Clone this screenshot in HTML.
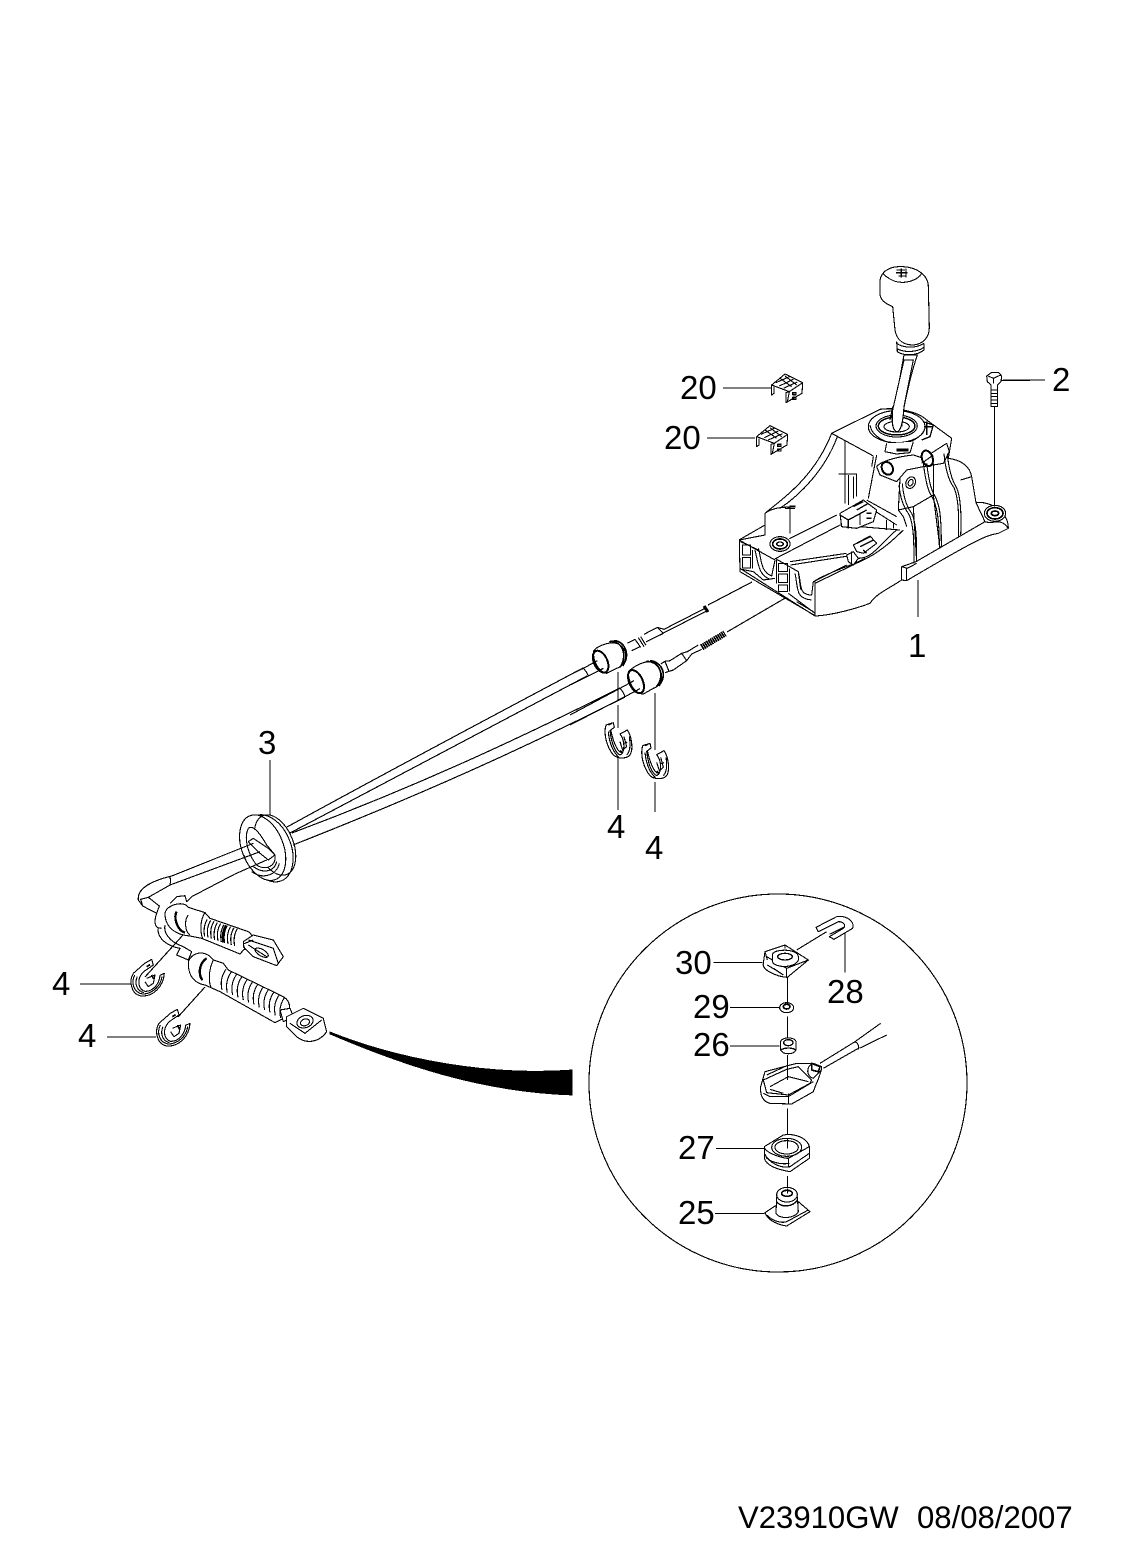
<!DOCTYPE html>
<html><head><meta charset="utf-8"><title>V23910GW</title>
<style>html,body{margin:0;padding:0;background:#fff}svg{display:block}text{font-family:"Liberation Sans",sans-serif;fill:#000;stroke:none}.a{shape-rendering:crispEdges}</style></head>
<body>
<svg xmlns="http://www.w3.org/2000/svg" width="1124" height="1566" viewBox="0 0 1124 1566">
<defs>
<g id="clipA"><path d="M108,405 L130,398 L133,412 L120,422 C124,458 135,488 150,495 C166,488 165,450 150,432 L172,420 C186,440 190,480 180,495 C170,506 145,508 130,495 C110,470 100,432 108,405 Z" fill="#fff"/><path d="M115,425 C118,460 128,485 148,503 M122,420 C130,455 140,480 152,488 M162,440 L170,470 L158,480 L150,455 M160,460 L172,456 M178,440 C182,465 180,485 170,495"/><path d="M150,482 l6,6 M115,405 l8,-4" stroke-width="5"/></g>
<g id="clipB"><path d="M74,490 L95,478 L100,495 L78,510 C48,530 52,568 75,574 C96,575 118,555 120,526 L133,520 C130,560 100,590 65,588 C35,585 25,545 40,520 Z" fill="#fff"/><path d="M44,525 C32,550 42,578 68,582 C95,582 122,560 126,530 M52,530 C42,552 52,574 72,578 M80,535 L105,525 L100,550 L85,560 L75,545"/><path d="M80,500 l10,-6 M95,525 l6,12" stroke-width="5"/></g>
<path id="r1" d="M0,0 q-14,22 -8,52"/>
<path id="r2" d="M0,0 q-20,28 -12,62"/>
<g id="cl20"><path d="M215,405 L255,372 L308,398 L306,430 L258,458 L258,428 L268,425 L215,405 L215,435 L222,430 L222,410" fill="#fff"/><path d="M268,425 L308,398 M268,425 L262,455 M228,398 L268,380 M238,408 L280,388 M250,415 L292,396 M240,385 L275,410 M255,378 L290,405"/><path d="M278,428 h10 v6 h-10 z M278,442 h10 v6 h-10z" stroke-width="4"/></g>
</defs>
<rect width="1124" height="1566" fill="#fff"/>
<g class="a">
<g fill="none" stroke="#000" stroke-width="1.15">
<path d="M723,388H772M707,438H755M1003,380H1045M918,580V617M270,760V815M618,672V700M618,705V728M618,757V810M655,693V750M655,782V812M80,984H131M107,1037H156M145,977L183,935M178,1017L205,987"/>
<circle cx="778" cy="1083" r="189"/>
<path d="M583,668 C500,712 400,765 287,827M587,676 C500,722 400,775 290,833M620,688 C520,738 420,785 292,833M625,697 C520,750 420,795 293,845M708,605L752,582M727,632L787,597"/>
</g>
<path d="M330,1032 C400,1060 490,1076 572,1070 L572,1095 C480,1092 400,1064 330,1034 Z" fill="#000" stroke="#000" stroke-width=".8"/>

<!-- boots and rods, z4 -->
<g transform="translate(570,590) scale(.33333)" fill="none" stroke="#000" stroke-width="3.4" stroke-linejoin="round">
<!-- upper rod -->
<path d="M172,160 L195,148 M185,182 L210,170 M195,148 L212,172 M205,143 L222,170 M212,140 L228,166 M222,133 L262,112 L282,118 L405,55 M228,156 L280,130 L282,128 L412,62 M262,112 L280,130" />
<path d="M402,48 L414,66" stroke-width="9"/>
<!-- lower rod -->
<path d="M272,222 L285,214 L300,212 L335,190 L352,185 L385,165 M285,248 L310,240 L350,212 L365,192 L395,178 M285,214 L297,244 M335,190 L350,212"/>
<path d="M395,172 L465,130" stroke-width="19" stroke-dasharray="5 1.5"/>
<!-- upper boot -->
<path d="M70,185 C80,165 130,150 150,165 C178,185 170,225 140,235 L110,250 C85,245 70,215 70,185 Z" fill="#fff"/>
<ellipse cx="92" cy="215" rx="20" ry="35" transform="rotate(-25 92 215)" stroke-width="6"/>
<path d="M118,155 C150,148 178,190 150,232 M130,152 C160,150 185,190 158,228" stroke-width="5"/>
<path d="M0,255 L40,235 L82,212 M0,285 L55,258 L100,235 M40,235 Q50,245 55,258"/>
<!-- lower boot -->
<path d="M175,245 C195,225 235,205 255,222 C285,245 280,285 250,295 L220,312 C190,310 175,275 175,245 Z" fill="#fff"/>
<ellipse cx="198" cy="275" rx="20" ry="37" transform="rotate(-25 198 275)" stroke-width="6"/>
<path d="M228,215 C265,210 290,255 258,292 M240,212 C275,215 295,255 266,288" stroke-width="5"/>
<path d="M0,375 L150,295 L192,272 M0,405 L165,320 L210,296 M150,295 Q160,305 165,320"/>
<use href="#clipA"/>
<use href="#clipA" x="110" y="62"/>
</g>

<!-- shifter z1 -->
<g transform="translate(700,250) scale(.33333)" fill="none" stroke="#000" stroke-width="3.3" stroke-linejoin="round">
<path d="M118,870 L195,855 L195,790 C235,755 340,690 395,550 L540,478 C600,470 660,490 680,510 L755,565 L745,625 C785,630 810,650 815,680 L828,758 C870,752 925,785 925,835 L895,850 C860,855 830,868 620,992 L605,990 C560,1020 530,1030 510,1060 C470,1075 400,1095 347,1098 L120,965 Z" fill="#fff"/>
<path d="M605,950 L648,935 L855,815 L828,758 M605,950 V990 M620,955 V992 M605,950 L622,955 L650,940 M925,835 C900,800 880,825 855,815"/>
<path d="M395,550 L520,618 M435,570 V760 M415,672 H470 V740 M445,675 V765 M460,680 V745 M530,615 L505,745 M520,620 L515,650 M195,790 C215,775 245,770 270,772 V850 M240,775 C300,735 375,660 412,560 M255,775 H285 "/>
<path d="M268,770 l18,0" stroke-width="6"/>
<path d="M612,315 C600,380 590,440 578,500 L604,515 C612,470 630,380 652,315 Z" fill="#fff"/>
<ellipse cx="590" cy="530" rx="85" ry="48" fill="#fff"/>
<ellipse cx="590" cy="528" rx="62" ry="33"/>
<ellipse cx="590" cy="528" rx="55" ry="27" stroke-width="4.5"/>
<ellipse cx="590" cy="530" rx="38" ry="16"/>
<path d="M578,480 C576,500 574,540 590,545 C600,545 608,530 612,470 L640,330 L612,330 Z" fill="#fff"/>
<path d="M570,510 L578,470 M605,530 L612,480"/>
<path d="M510,525 C515,560 560,580 590,582 C625,582 665,565 675,535"/>
<path d="M540,90 C545,60 575,48 610,50 C650,52 685,75 685,110 L688,232 C688,262 670,282 640,285 C610,285 590,270 585,240 L578,170 C555,160 540,150 540,130 Z" fill="#fff"/>
<path d="M548,70 C570,92 590,98 612,97 C640,95 662,80 664,70 M590,275 L592,305 C610,318 650,318 672,300 L672,280 M590,280 C610,295 650,295 672,280 M590,295 C610,308 650,308 672,292"/>
<path d="M590,60 h25 M588,68 h35 M595,78 h25 M604,55 v28 M618,55 v28" stroke-width="4"/>
<path d="M560,580 L555,605 L590,612 L630,608 L640,575" fill="#fff"/>
<path d="M590,600 h35" stroke-width="8"/>
<path d="M670,515 L700,525 L690,560 L665,570 M680,515 V555 M672,530 L700,530" stroke-width="4"/>
<path d="M530,650 C540,635 590,620 640,615 L670,625 L740,580 L748,605 L730,640 L670,650 L620,660 L590,695 L540,675 Z" fill="#fff"/>
<ellipse cx="562" cy="655" rx="16" ry="20" transform="rotate(-30 562 655)" stroke-width="6"/>
<path d="M600,685 L595,780 L640,770 L700,735 L700,640 M595,780 L610,800 L620,830 M640,770 L650,935 M700,735 L720,895 "/>
<ellipse cx="632" cy="698" rx="14" ry="18" transform="rotate(25 632 698)"/>
<ellipse cx="632" cy="698" rx="7" ry="10" transform="rotate(25 632 698)"/>
<ellipse cx="682" cy="625" rx="16" ry="24" transform="rotate(-20 682 625)" fill="#fff" stroke-width="6"/>
<path d="M665,640 L700,615"/>
<path d="M670,640 C675,680 680,710 690,730 C710,760 718,800 718,895 M680,640 C685,680 690,710 700,730 C720,760 724,800 724,890"/>
<path d="M732,610 C735,650 745,690 760,710 C775,735 778,800 775,860 M742,610 C745,650 755,690 768,710 C782,735 785,800 782,855"/>
<path d="M597,705 C600,740 610,770 625,790 C642,820 642,880 642,940 M607,700 C610,740 620,770 635,790 C650,820 650,880 650,935"/>
<path d="M815,680 L782,690"/>
<ellipse cx="885" cy="790" rx="32" ry="24" fill="#fff"/>
<ellipse cx="885" cy="790" rx="24" ry="17" stroke-width="5"/>
<ellipse cx="885" cy="790" rx="11" ry="7" stroke-width="5"/>
<path d="M883,470 V770 M905,392 H990"/>
<path d="M860,378 L875,367 L895,367 L905,378 L903,395 L892,405 V470 H873 V405 L862,395 Z" fill="#fff"/>
<path d="M865,378 L880,385 L902,375 M880,385 V400 M873,420 h19 M873,430 h19 M873,440 h19 M873,450 h19 M873,460 h19"/>
<!-- floor -->
<path d="M268,866 L410,795 M228,925 L420,825 M420,825 L600,840 M270,935 L440,910 M272,945 L445,918 M345,992 C400,960 450,950 495,925 M345,1000 L500,925 C530,910 570,880 610,840 M520,780 L590,825 M560,810 V840 M580,820 V835 M500,750 L590,800"/>
<!-- box walls, z6 -->
<g transform="translate(90,750)">
<path d="M27,120 L105,75 M32,125 L85,150 M27,120 L135,180 M30,205 L255,348 M35,208 L70,215 L100,240 L135,235"/>
<path d="M37,135 h25 v30 h-25z M37,172 h25 v32 h-25z M68,150 v55"/>
<path d="M85,145 C95,175 90,215 125,228 L135,180 M75,150 C85,190 85,225 120,238"/>
<path d="M135,175 L205,215 L212,268 M140,180 V250 M145,190 h28 v25 h-28z M145,222 h28 v25 h-28z M145,255 h28 v20 h-28z M178,205 V275"/>
<path d="M205,215 C215,255 205,285 245,285 L250,245 M195,220 C205,265 195,295 245,300 M175,280 L255,340 M200,305 L250,335 M255,348 V245 M250,245 L350,195"/>
</g>
<ellipse cx="240" cy="882" rx="30" ry="22" fill="#fff"/>
<ellipse cx="240" cy="882" rx="22" ry="15" stroke-width="5"/>
<ellipse cx="240" cy="882" rx="10" ry="6" stroke-width="4"/>
<path d="M420,790 L490,750 L530,780 L520,815 L470,835 L425,830 Z" fill="#fff"/>
<path d="M420,795 L445,810 L500,780 M445,810 V835 M470,780 L505,760 M460,770 L490,755 M480,790 V825 M500,790 h15 M500,805 h15" stroke-width="4"/>
<path d="M460,885 L510,858 L530,880 L490,910 L470,905 Z" fill="#fff"/>
<path d="M470,880 L510,860 M480,890 L520,870 M490,900 L500,910" stroke-width="4"/>
<path d="M440,915 L460,905 L475,925 L460,945 L445,935 Z M455,905 V945" fill="#fff"/>
<path d="M475,925 C520,925 540,880 590,840"/>
<use href="#cl20"/>
<use href="#cl20" x="-45" y="155"/>
</g>

<!-- bottom-left assembly z2 -->
<g transform="translate(120,800) scale(.33333)" fill="none" stroke="#000" stroke-width="3.3" stroke-linejoin="round">
<ellipse cx="445" cy="145" rx="68" ry="105" transform="rotate(-22 445 145)" fill="#fff"/>
<ellipse cx="428" cy="143" rx="62" ry="103" transform="rotate(-22 428 143)" fill="#fff"/>
<ellipse cx="465" cy="135" rx="55" ry="95" transform="rotate(-22 465 135)"/>
<path d="M385,85 C395,75 415,90 440,135 L465,165 C470,195 440,215 410,195 C385,165 370,115 385,85 Z" fill="#fff"/>
<path d="M395,215 C430,240 470,225 478,190 M400,200 C435,225 465,210 470,185"/>
<path d="M385,125 L400,115 L445,145 L465,165 L445,180 L420,160 Z" fill="#fff"/>
<path d="M400,130 L155,228 C105,240 50,262 55,300 L68,318 L110,340 L118,318 L85,292 L150,255 L380,170 L420,155 M440,180 L345,222 L215,290 L200,305 L195,287 L170,290 L150,310 M85,292 L62,298 L68,318 M148,228 C155,240 150,250 150,255 M372,165 L378,182"/>
<path d="M110,340 C100,370 105,385 125,385 M115,385 C110,400 125,435 180,445 L205,465 M135,375 C130,395 145,425 190,440 L215,455"/>
<path d="M180,445 L170,465 L205,480 L215,455" fill="#fff"/>
<path d="M135,340 C138,315 190,300 205,322 L255,338 L270,355 L385,395 C398,402 400,420 388,430 L360,462 L245,415 L210,408 C170,405 135,385 135,340 Z" fill="#fff"/>
<path d="M170,335 C160,350 170,390 195,398" stroke-width="7"/>
<path d="M205,345 C192,360 195,395 210,405 M255,338 C240,360 240,395 248,415"/>
<use href="#r1" x="262" y="358"/><use href="#r1" x="272" y="361"/><use href="#r1" x="282" y="364"/><use href="#r1" x="292" y="368"/><use href="#r1" x="302" y="371"/><use href="#r1" x="312" y="374"/><use href="#r1" x="322" y="377"/><use href="#r1" x="332" y="380"/><use href="#r1" x="342" y="383"/><use href="#r1" x="352" y="386"/>
<path d="M318,376 q-14,22 -8,52" stroke-width="6"/>
<path d="M370,425 L400,405 L460,420 L490,470 L470,497 L400,470 L370,440 Z" fill="#fff"/>
<path d="M385,420 L460,445 L475,490 M385,435 L440,470 M400,420 L370,432 L375,450"/>
<ellipse cx="425" cy="458" rx="22" ry="10" transform="rotate(30 425 458)"/>
<path d="M205,490 C205,465 250,440 280,480 L310,490 L325,510 L490,590 C515,605 515,640 490,655 L465,668 L300,575 L255,555 C225,550 205,530 205,490 Z" fill="#fff"/>
<path d="M260,475 C235,490 235,530 248,540" stroke-width="7"/>
<path d="M280,480 C265,510 265,550 275,565"/>
<use href="#r2" x="318" y="508"/><use href="#r2" x="334" y="516"/><use href="#r2" x="350" y="523"/><use href="#r2" x="366" y="530"/><use href="#r2" x="382" y="538"/><use href="#r2" x="398" y="545"/><use href="#r2" x="414" y="552"/><use href="#r2" x="430" y="560"/><use href="#r2" x="446" y="568"/><use href="#r2" x="462" y="576"/><use href="#r2" x="478" y="584"/><use href="#r2" x="494" y="592"/>
<path d="M480,630 L510,625 L520,650 L490,665 Z" fill="#fff"/>
<path d="M500,650 L550,625 L610,655 L620,695 C600,725 560,735 530,710 L500,680 Z" fill="#fff"/>
<path d="M510,670 L555,700 L605,660"/>
<ellipse cx="555" cy="665" rx="25" ry="18" transform="rotate(-20 555 665)"/>
<ellipse cx="555" cy="667" rx="14" ry="10" transform="rotate(-20 555 667)"/>
<use href="#clipB"/>
<use href="#clipB" x="77" y="150"/>
</g>

<!-- inset z3 -->
<g transform="translate(670,900) scale(.33333)" fill="none" stroke="#000" stroke-width="3.3" stroke-linejoin="round">
<path d="M352,232 V310 M352,350 V412 M352,625 V705 M352,828 V865 M130,188 H278 M180,322 H328 M180,438 H328 M138,745 H282 M135,940 H283 M525,100 V218 M380,150 L470,95"/>
<path d="M438,82 L500,50 C530,45 555,65 548,85 L492,118 L478,110 L520,85 C530,75 520,65 505,65 L445,95 Z" fill="#fff"/>
<path d="M478,103 L525,80"/>
<path d="M285,155 L345,135 L415,180 L352,232 C320,230 275,210 280,190 Z" fill="#fff"/>
<path d="M290,170 L350,205 L415,180 M350,205 V232 M285,155 L292,180 M345,135 V145 M292,195 L325,215"/>
<path d="M307,165 C307,145 385,145 385,170 V180 C375,205 315,205 307,185 Z" fill="#fff"/>
<ellipse cx="345" cy="170" rx="22" ry="10" stroke-width="4"/>
<path d="M310,205 L340,225" stroke-width="4"/>
<ellipse cx="350" cy="323" rx="21" ry="15" fill="#fff"/>
<ellipse cx="350" cy="320" rx="10" ry="7" stroke-width="5"/>
<path d="M332,425 C335,410 375,410 378,425 L378,450 C370,465 340,465 332,450 Z" fill="#fff"/>
<ellipse cx="355" cy="428" rx="14" ry="9" stroke-width="4"/>
<path d="M332,450 C345,442 365,442 378,450" stroke-width="4"/>
<path d="M450,490 L555,425 M460,505 L565,445 M555,425 L632,370 M568,445 L650,405 M555,425 C565,430 568,440 565,448"/>
<path d="M272,560 L285,515 L380,490 L430,490 L455,500 C455,520 440,545 430,575 L365,612 L300,610 C280,605 270,590 272,560 Z" fill="#fff"/>
<path d="M280,540 L350,508 L385,500 L425,540 L420,550 L355,585 L290,578 Z M290,525 L355,495 M300,560 L355,530 L415,545 M280,580 L300,590 L355,590 L430,545 M355,580 V610 M300,568 L340,580 M430,490 C405,500 410,530 430,535 L455,510"/>
<path d="M425,490 l25,10 l-5,15 l-20,-5z" stroke-width="5"/>
<path d="M352,465 V540"/>
<path d="M283,740 L340,705 C370,700 410,710 418,740 L418,775 L360,815 C330,810 290,800 283,775 Z" fill="#fff"/>
<path d="M283,740 C285,760 340,775 355,775 L418,740 M355,775 V800 M283,760 C300,795 340,805 360,800 L418,760 M288,772 C300,785 330,795 358,790"/>
<ellipse cx="350" cy="742" rx="45" ry="27"/>
<ellipse cx="350" cy="742" rx="35" ry="20"/>
<path d="M352,715 V745"/>
<path d="M285,938 L320,915 L385,905 L420,935 L350,978 C330,975 295,965 285,938 Z" fill="#fff"/>
<path d="M290,945 C310,965 335,970 350,965 L415,930"/>
<path d="M320,890 L318,940 C330,960 375,955 385,935 L382,890" fill="#fff"/>
<ellipse cx="351" cy="884" rx="31" ry="22" fill="#fff"/>
<ellipse cx="351" cy="880" rx="16" ry="9" stroke-width="5"/>
<path d="M320,905 C335,925 370,920 382,900" stroke-width="4"/>
<path d="M352,865 V880"/>
</g>
</g>
<g font-size="33">
<text x="680" y="399">20</text>
<text x="664" y="449">20</text>
<text x="1052" y="391">2</text>
<text x="908" y="657">1</text>
<text x="258" y="754">3</text>
<text x="607" y="838">4</text>
<text x="645" y="859">4</text>
<text x="52" y="995">4</text>
<text x="78" y="1047">4</text>
<text x="675" y="974">30</text>
<text x="827" y="1003">28</text>
<text x="693" y="1018">29</text>
<text x="693" y="1056">26</text>
<text x="678" y="1159">27</text>
<text x="678" y="1224">25</text>
</g>
<text x="738" y="1528" font-size="31.1">V23910GW</text>
<text x="917" y="1528" font-size="31.1">08/08/2007</text>
</svg>
</body></html>
